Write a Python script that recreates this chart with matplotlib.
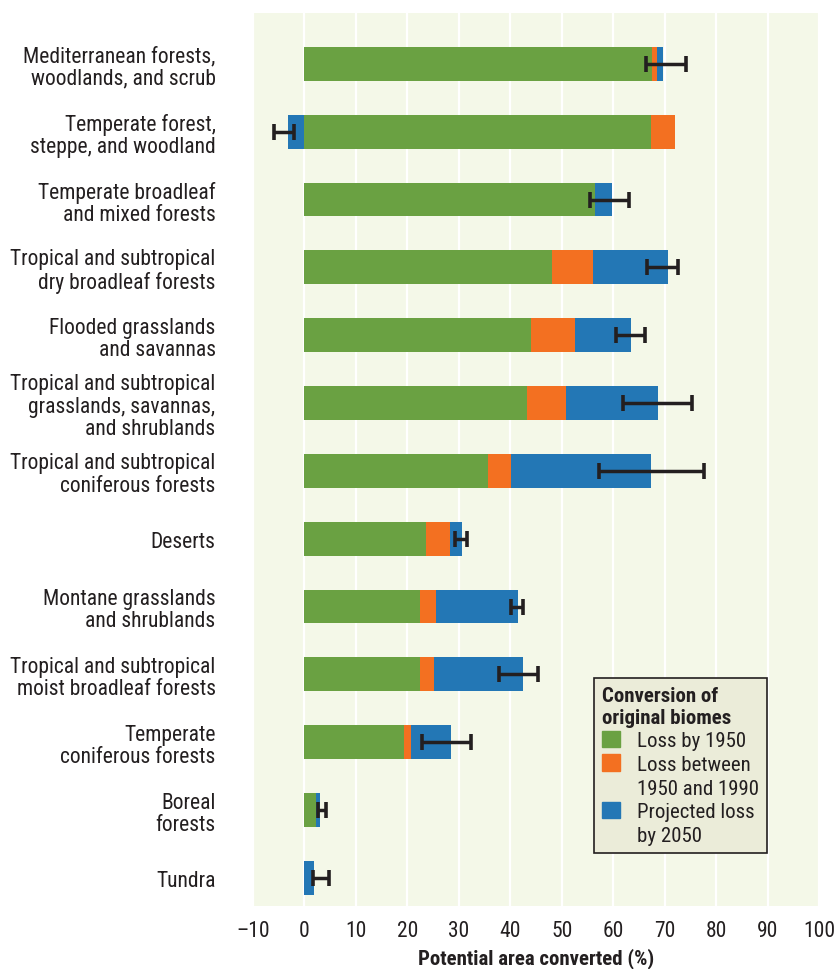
import matplotlib
matplotlib.use("Agg")
import matplotlib.pyplot as plt
from matplotlib import font_manager
from matplotlib.patches import Patch
import numpy as np

# Pick a condensed sans family if one is installed
available = {f.name for f in font_manager.fontManager.ttflist}
family = "DejaVu Sans"
for cand in ["Liberation Sans Narrow", "Roboto Condensed", "Open Sans Condensed", "Roboto", "Liberation Sans"]:
    if cand in available:
        family = cand
        break
plt.rcParams["font.family"] = [family, "DejaVu Sans"]

biomes = [
    "Mediterranean forests,\nwoodlands, and scrub",
    "Temperate forest,\nsteppe, and woodland",
    "Temperate broadleaf\nand mixed forests",
    "Tropical and subtropical\ndry broadleaf forests",
    "Flooded grasslands\nand savannas",
    "Tropical and subtropical\ngrasslands, savannas,\nand shrublands",
    "Tropical and subtropical\nconiferous forests",
    "Deserts",
    "Montane grasslands\nand shrublands",
    "Tropical and subtropical\nmoist broadleaf forests",
    "Temperate\nconiferous forests",
    "Boreal\nforests",
    "Tundra",
]

# Loss by 1950 (%)
loss_1950 = [67.5, 67.4, 56.5, 48.1, 44.1, 43.2, 35.6, 23.7, 22.4, 22.4, 19.3, 2.3, 0.0]
# Loss between 1950 and 1990 (%)
loss_1950_1990 = [1.0, 4.6, 0.0, 8.0, 8.4, 7.7, 4.5, 4.5, 3.1, 2.7, 1.4, 0.0, 0.0]
# Projected loss by 2050 (%); negative means a projected gain
loss_2050 = [1.2, -3.2, 3.3, 14.6, 11.0, 17.8, 27.3, 2.4, 15.9, 17.3, 7.7, 0.7, 1.9]
# Range of the projection uncertainty (%)
err_low = [66.3, -5.9, 55.4, 66.6, 60.6, 61.8, 57.3, 29.2, 40.1, 37.8, 22.9, 2.6, 1.7]
err_high = [74.2, -2.1, 63.1, 72.5, 66.1, 75.3, 77.7, 31.6, 42.4, 45.4, 32.4, 4.2, 4.8]

ticks = [-10, 0, 10, 20, 30, 40, 50, 60, 70, 80, 90, 100]
tick_labels = ["\u201310"] + [str(t) for t in ticks[1:]]

GREEN = "#6aa142"
ORANGE = "#f37021"
BLUE = "#2377b5"
BG = "#f4f8e8"
INK = "#231f20"
FS = 15.5

fig = plt.figure(figsize=(8.35, 9.7), dpi=100)
ax = fig.add_axes([0.303, 0.0653, 0.678, 0.9203])
ax.set_facecolor(BG)

y = np.arange(len(biomes))
h = 0.5
g = np.array(loss_1950)
o = np.array(loss_1950_1990)
b = np.array(loss_2050)

ax.barh(y, g, height=h, color=GREEN, zorder=2)
ax.barh(y, o, left=g, height=h, color=ORANGE, zorder=2)
b_left = np.where(b >= 0, g + o, 0.0)
ax.barh(y, b, left=b_left, height=h, color=BLUE, zorder=2)

lo = np.array(err_low)
hi = np.array(err_high)
ax.errorbar((lo + hi) / 2, y, xerr=(hi - lo) / 2, fmt="none", ecolor=INK,
            elinewidth=2.5, capsize=5.5, capthick=2.6, zorder=3)

ax.set_xlim(-9.75, 100)
ax.set_ylim(len(biomes) - 1 + 0.41, -0.75)
ax.set_xticks(ticks)
ax.set_xticklabels(tick_labels, fontsize=FS, color=INK)
ax.set_yticks(y)
ax.set_yticklabels(biomes, fontsize=FS, color=INK, linespacing=1.08)
ax.tick_params(axis="both", length=0)
ax.tick_params(axis="y", pad=27)
ax.tick_params(axis="x", pad=10)
ax.grid(axis="x", color="white", linewidth=1.6, zorder=1)
ax.set_axisbelow(True)
for s in ax.spines.values():
    s.set_visible(False)

ax.set_xlabel("Potential area converted (%)", fontsize=15, fontweight="bold",
              color=INK, labelpad=5)

# Legend: each text line is its own row so the swatch sits beside the first line
blank = Patch(color="none")
handles = [Patch(color=GREEN), Patch(color=ORANGE), blank, Patch(color=BLUE), blank]
labels = ["Loss by 1950", "Loss between", "1950 and 1990", "Projected loss", "by 2050"]
leg = ax.legend(handles, labels,
                title="Conversion of\noriginal biomes", loc="upper left",
                bbox_to_anchor=(594 / 835, 1 - 679 / 970), bbox_transform=fig.transFigure,
                borderaxespad=0, fontsize=15, title_fontsize=15,
                frameon=True, fancybox=False, edgecolor=INK, facecolor="#ebecd9",
                framealpha=1, handlelength=0.85, handleheight=0.85, handletextpad=0.8,
                borderpad=0.4, labelspacing=0.2, alignment="left")
leg.get_frame().set_linewidth(1.2)
leg.get_title().set_fontweight("bold")
leg.get_title().set_linespacing(1.15)
for t in leg.get_texts():
    t.set_color(INK)
leg.get_title().set_color(INK)

fig.savefig("out.png", dpi=100, facecolor="white")
